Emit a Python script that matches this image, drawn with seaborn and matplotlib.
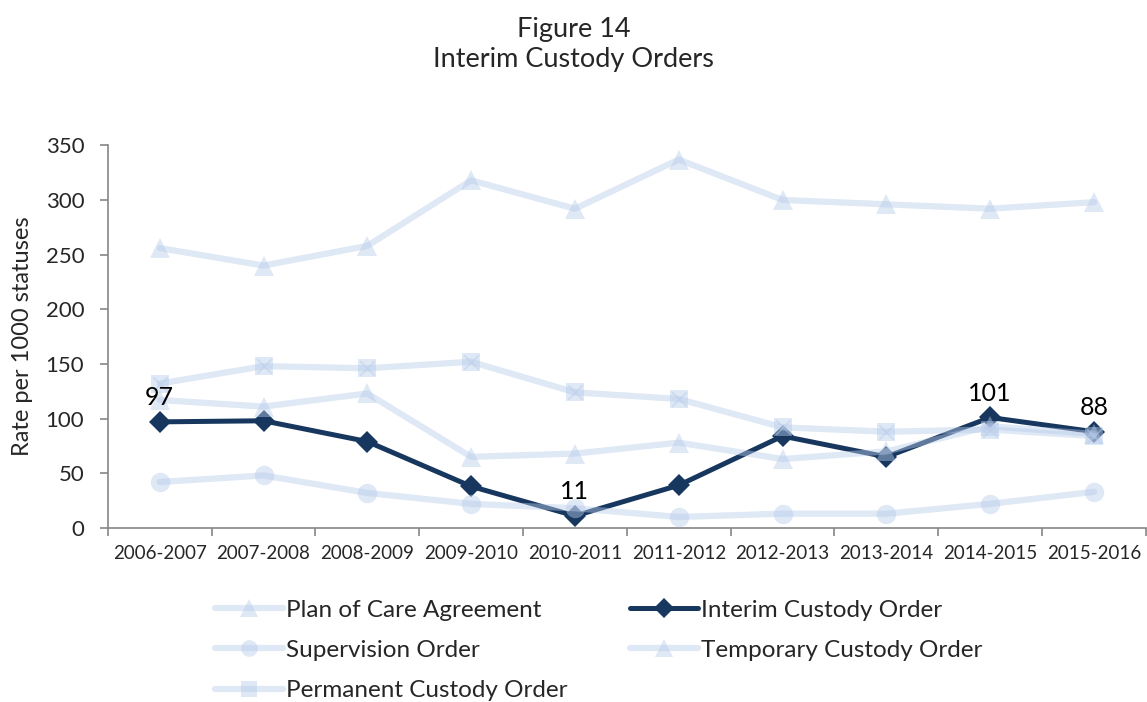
import matplotlib
matplotlib.use("Agg")
import matplotlib.pyplot as plt
from matplotlib.lines import Line2D
import seaborn as sns
import pandas as pd

years = ["2006-2007", "2007-2008", "2008-2009", "2009-2010", "2010-2011",
         "2011-2012", "2012-2013", "2013-2014", "2014-2015", "2015-2016"]
plan_of_care = [256, 240, 258, 318, 292, 337, 300, 296, 292, 298]
interim_custody = [97, 98, 79, 38, 11, 39, 84, 65, 101, 88]
supervision = [42, 48, 32, 22, 18, 10, 13, 13, 22, 33]
temporary_custody = [117, 111, 123, 65, 68, 78, 63, 70, 93, 86]
permanent_custody = [132, 148, 146, 152, 124, 118, 92, 88, 90, 84]
labelled_points = {"2006-2007": 97, "2010-2011": 11, "2014-2015": 101, "2015-2016": 88}

sns.set_theme(style="white")
plt.rcParams['font.family'] = ['Lato', 'DejaVu Sans']

LIGHT = "#B8CCEB"
LIGHT_A = 0.45
DARK = "#17375E"

fig = plt.figure(figsize=(11.47, 7.02), dpi=100)
ax = fig.add_axes([0.094, 0.248, 0.905, 0.545])

def light_series(vals, marker, ms, z, label):
    df = pd.DataFrame({"year": years, "v": vals})
    sns.lineplot(data=df, x="year", y="v", ax=ax, color=LIGHT, alpha=LIGHT_A,
                 linewidth=4.5, marker=marker, markersize=ms, markeredgewidth=0,
                 zorder=z, sort=False, label=label)

light_series(plan_of_care, "^", 15, 2, "Plan of Care Agreement")
df_i = pd.DataFrame({"year": years, "v": interim_custody})
sns.lineplot(data=df_i, x="year", y="v", ax=ax, color=DARK, linewidth=3.6,
             marker="D", markersize=11, markeredgewidth=0, zorder=3, sort=False,
             label="Interim Custody Order")
light_series(supervision, "o", 14, 4, "Supervision Order")
light_series(temporary_custody, "^", 15, 5, "Temporary Custody Order")
light_series(permanent_custody, "s", 13, 6, "Permanent Custody Order")
df_p = pd.DataFrame({"year": years, "v": permanent_custody})
sns.scatterplot(data=df_p, x="year", y="v", ax=ax, marker="x", s=110,
                color=LIGHT, alpha=0.5, linewidth=1.2, zorder=6.5, legend=False)

for yr, val in labelled_points.items():
    ax.annotate(str(val), (years.index(yr), val), xytext=(0, 9),
                textcoords="offset points", ha="center", va="bottom",
                fontsize=18, color="black", zorder=10)

ax.set_xlim(-0.5, len(years) - 0.5)
ax.set_ylim(0, 350)
ax.set_yticks(range(0, 351, 50))
ax.set_xlabel("")
ax.set_ylabel("Rate per 1000 statuses", fontsize=17, labelpad=9)
ax.tick_params(axis="y", labelsize=16, length=6, width=1.2, color="#868686",
               left=True, pad=11)
ax.tick_params(axis="x", which="major", labelsize=13.5, length=0, pad=12)
ax.set_xticks([i + 0.5 for i in range(-1, len(years))], minor=True)
ax.tick_params(axis="x", which="minor", length=6, width=1.2, color="#868686",
               bottom=True)
for s in ["top", "right"]:
    ax.spines[s].set_visible(False)
for s in ["left", "bottom"]:
    ax.spines[s].set_color("#868686")
    ax.spines[s].set_linewidth(1.2)

fig.text(0.5, 0.936, "Figure 14\nInterim Custody Orders", ha="center",
         va="center", fontsize=19.5, linespacing=1.25)

if ax.get_legend():
    ax.get_legend().remove()
lc = dict(color=LIGHT, alpha=LIGHT_A, linewidth=4.5, markeredgewidth=0)
handles = [
    Line2D([], [], marker="^", markersize=13, **lc),
    Line2D([], [], marker="o", markersize=12, **lc),
    Line2D([], [], marker="s", markersize=11, **lc),
    Line2D([], [], color=DARK, linewidth=3.6, marker="D", markersize=10,
           markeredgewidth=0),
    Line2D([], [], marker="^", markersize=13, **lc),
]
labels = ["Plan of Care Agreement", "Supervision Order", "Permanent Custody Order",
          "Interim Custody Order", "Temporary Custody Order"]
fig.legend(handles, labels, ncol=2, loc="upper left",
           bbox_to_anchor=(0.1875, 0.146), frameon=False, fontsize=17.5,
           handlelength=2.8, handletextpad=0.1, columnspacing=2.6,
           labelspacing=0.8, borderaxespad=0, borderpad=0)

fig.savefig("out.png", dpi=100)
